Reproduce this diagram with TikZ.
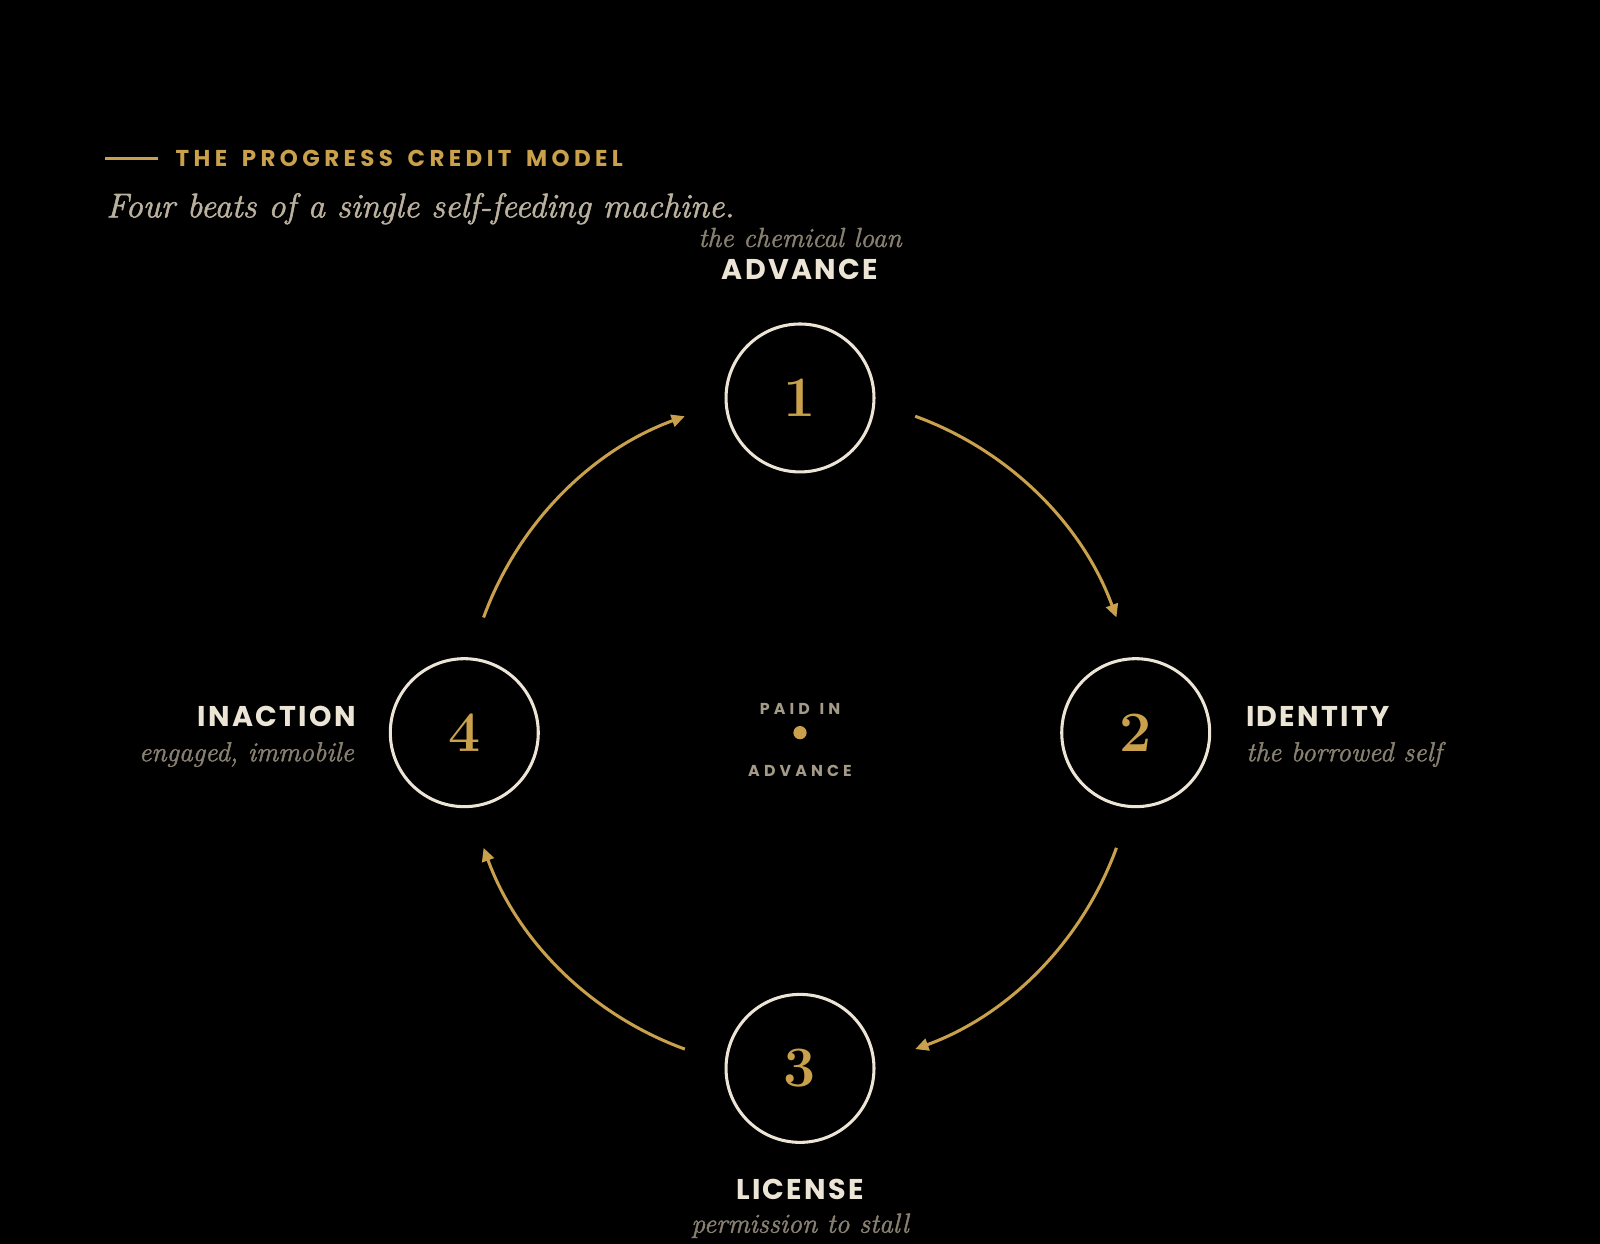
\documentclass[tikz,border=0pt]{standalone}
\usepackage{fontspec}
\usetikzlibrary{arrows.meta,calc}
\newfontfamily\sanstitle[LetterSpace=19,WordSpace=1.6]{Poppins}
\newfontfamily\sanslab[LetterSpace=8]{Poppins}
\newfontfamily\sanssmall[LetterSpace=26,WordSpace=1.3]{Poppins}
\newfontfamily\itserif[ItalicFeatures={FakeBold=1.6}]{Latin Modern Roman}
\definecolor{gold}{HTML}{C9A04C}
\definecolor{cream}{HTML}{ECE5D5}
\definecolor{subgrey}{HTML}{BAB09E}
\definecolor{italgrey}{HTML}{877F70}
\definecolor{midgrey}{HTML}{A39A88}
\tikzset{
  beat/.style={circle, draw=cream, line width=3pt, minimum size=145pt, inner sep=0pt,
    text=gold, font=\fontsize{56}{60}\selectfont\bfseries},
  loop/.style={draw=gold, line width=3pt, -{Triangle[length=13pt,width=12pt]}},
  lab/.style={text=cream, inner sep=0pt, font=\fontsize{28}{30}\selectfont\sanslab\bfseries},
  ital/.style={text=italgrey, inner sep=0pt, font=\fontsize{27}{30}\selectfont\itserif\itshape},
  cen/.style={text=midgrey, inner sep=0pt, font=\fontsize{15.5}{18}\selectfont\sanssmall\bfseries},
}
\begin{document}
\begin{tikzpicture}[x=1pt,y=1pt]
\fill[black] (0,0) rectangle (1568,-1219);
\useasboundingbox (0,0) rectangle (1568,-1219);
% header
\coordinate (rl) at (103,-155);
\coordinate (rr) at (155,-155);
\draw[gold, line width=3pt] (rl) -- (rr);
\node[anchor=base west, inner sep=0pt, text=gold, font=\fontsize{22.5}{24}\selectfont\sanstitle\bfseries] (title) at (172,-163) {THE PROGRESS CREDIT MODEL};
\node[anchor=base west, inner sep=0pt, text=subgrey, font=\fontsize{33.6}{36}\selectfont\itserif\itshape] (sub) at (104,-213) {Four beats of a single self-feeding machine.};
% beats
\coordinate (C) at (784,-718);
\node[beat] (n1) at (784,-390) {1};
\node[beat] (n2) at (1113,-718) {2};
\node[beat] (n3) at (784,-1047) {3};
\node[beat] (n4) at (455,-718) {4};
% labels
\node[ital, anchor=base] (t1) at (784,-242) {the chemical loan};
\node[lab, anchor=base] (l1) at (784,-274) {ADVANCE};
\node[lab, anchor=base west] (l2) at (1221,-712) {IDENTITY};
\node[ital, anchor=base west] (t2) at (1221,-746) {the borrowed self};
\node[lab, anchor=base] (l3) at (784,-1175) {LICENSE};
\node[ital, anchor=base] (t3) at (784,-1208) {permission to stall};
\node[lab, anchor=base east] (l4) at (349,-712) {INACTION};
\node[ital, anchor=base east] (t4) at (347,-746) {engaged, immobile};
% centre
\node[cen, anchor=base] (p1) at (784,-700) {PAID IN};
\fill[gold] (C) circle (6.5pt);
\node[cen, anchor=base] (p2) at (784,-761) {ADVANCE};
% loop arcs
\coordinate (a1) at ($(C)+(70:330)$);
\coordinate (a2) at ($(C)+(-20:330)$);
\coordinate (a3) at ($(C)+(-110:330)$);
\coordinate (a4) at ($(C)+(160:330)$);
\draw[loop] (a1) arc[start angle=70, end angle=20, radius=330];
\draw[loop] (a2) arc[start angle=-20, end angle=-70, radius=330];
\draw[loop] (a3) arc[start angle=-110, end angle=-160, radius=330];
\draw[loop] (a4) arc[start angle=160, end angle=110, radius=330];
\end{tikzpicture}
\end{document}
